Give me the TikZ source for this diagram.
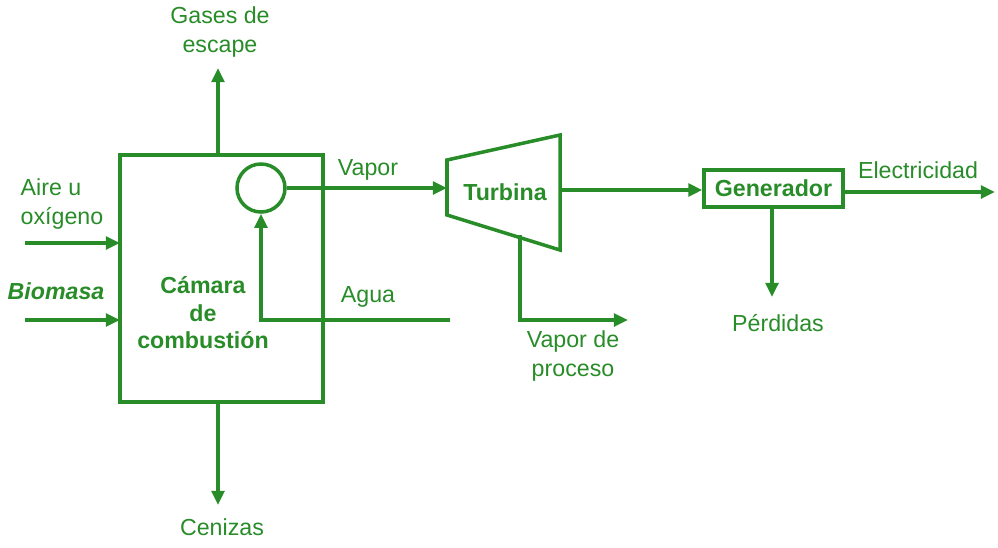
\documentclass[tikz,border=0pt]{standalone}
\usepackage{fontspec}
\setmainfont{Liberation Sans}
\usetikzlibrary{arrows.meta}
\definecolor{gr}{RGB}{40,140,40}
\begin{document}
\begin{tikzpicture}[x=0.025cm,y=-0.025cm,
  every node/.style={text=gr,font=\fontsize{16.5}{20}\selectfont,inner sep=0pt},
  ln/.style={draw=gr,line width=2.5pt},
  arr/.style={ln,-{Triangle[length=10pt,width=9pt]}},
  lbl/.style={align=center}]
\useasboundingbox (0,0) rectangle (998,547);
\draw[ln] (120,155) rectangle (323,402);
\node[circle,draw=gr,line width=2.5pt,minimum size=1.2cm] (c) at (261,188) {};
\coordinate (g1) at (218,155); \coordinate (g2) at (218,68);
\draw[arr] (g1) -- (g2);
\node[lbl] at (220,32) {Gases de\\escape};
\coordinate (z1) at (218,402); \coordinate (z2) at (218,505);
\draw[arr] (z1) -- (z2);
\node at (222,527) {Cenizas};
\node[lbl,align=left] at (62,204) {Aire u\\oxígeno};
\coordinate (a1) at (25,243); \coordinate (a2) at (120,243);
\draw[arr] (a1) -- (a2);
\node[font=\fontsize{16.5}{20}\selectfont\bfseries\itshape] at (56,291) {Biomasa};
\coordinate (b1) at (25,320); \coordinate (b2) at (120,320);
\draw[arr] (b1) -- (b2);
\node[lbl,font=\fontsize{16.5}{19.5}\selectfont\bfseries] at (203,313) {Cámara\\de\\combustión};
% turbine
\draw[ln] (447,160) -- (560,135) -- (560,250) -- (447,215) -- cycle;
\node[font=\fontsize{16.5}{20}\selectfont\bfseries] (t) at (505,192) {Turbina};
\coordinate (tl) at (447,188);
\draw[arr] (c.east) -- (tl);
\node at (368,170) {Vapor};
\coordinate (w1) at (450,320); \coordinate (w2) at (261,320);
\draw[arr] (w1) -- (w2) -- (c.south);
\node at (368,297) {Agua};
\coordinate (p1) at (520,235); \coordinate (p2) at (520,320); \coordinate (p3) at (628,320);
\draw[arr] (p1) -- (p2) -- (p3);
\node[lbl] at (573,356) {Vapor de\\proceso};
\node[draw=gr,line width=2.5pt,minimum width=3.47cm,minimum height=0.92cm,font=\fontsize{16.5}{20}\selectfont\bfseries] (g) at (773.5,188.5) {Generador};
\coordinate (tr) at (560,190);
\draw[arr] (tr) -- (g.west|-tr);
\coordinate (e2) at (995,192);
\draw[arr] (g.east|-e2) -- (e2);
\node at (918,170) {Electricidad};
\coordinate (d2) at (772,297);
\draw[arr] (g.south-|d2) -- (d2);
\node at (778,323) {Pérdidas};
\end{tikzpicture}
\end{document}
